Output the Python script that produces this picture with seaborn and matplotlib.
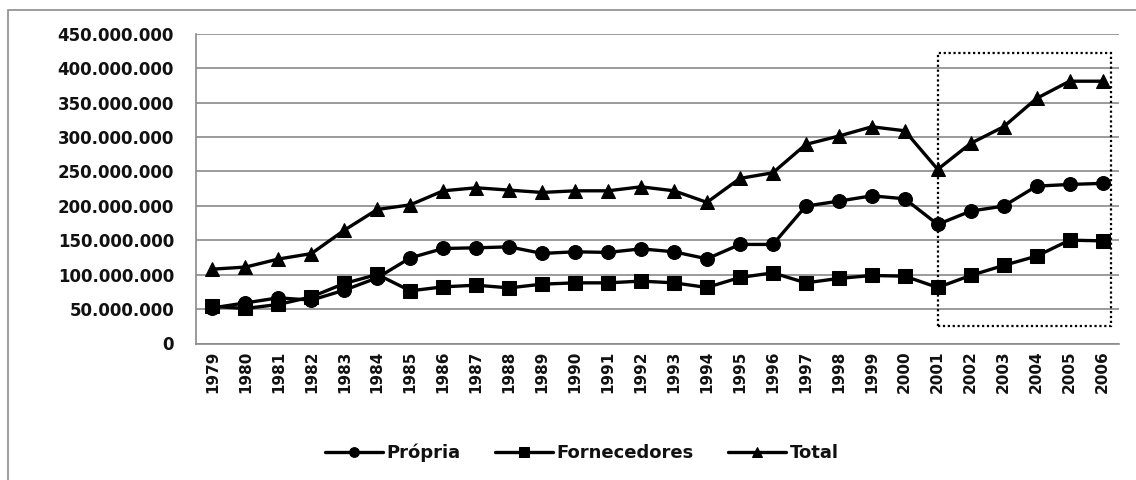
import numpy as np
import pandas as pd
import matplotlib
matplotlib.use("Agg")
import matplotlib.pyplot as plt
from matplotlib.ticker import FuncFormatter, FixedLocator
from matplotlib.patches import Rectangle
import seaborn as sns

years = list(range(1979, 2007))
propria = [51.7, 59.0, 66.3, 63.0, 77.5, 95.4, 124.4, 138.0, 139.0, 140.4,
           130.8, 133.2, 132.3, 137.5, 133.2, 123.0, 143.9, 143.9, 199.6, 206.8,
           214.5, 210.2, 173.0, 192.3, 199.6, 228.6, 231.0, 232.6]
fornecedores = [54.0, 50.9, 56.7, 67.7, 87.2, 100.3, 76.5, 82.3, 84.7, 80.8,
                86.2, 88.1, 88.1, 90.6, 88.1, 81.4, 95.9, 102.6, 88.1, 94.5,
                98.8, 97.8, 81.4, 98.8, 113.4, 126.9, 150.1, 149.1]
total = [108.0, 111.0, 122.7, 130.6, 164.6, 194.7, 201.4, 221.8, 226.2, 222.8,
         219.4, 221.8, 221.8, 227.6, 221.8, 205.0, 239.8, 248.0, 289.2, 301.3,
         314.8, 309.0, 252.9, 290.7, 314.8, 356.0, 381.0, 381.0]
series_names = ["Própria", "Fornecedores", "Total"]
yticks = list(range(0, 450_000_001, 50_000_000))

df = pd.DataFrame({
    "Ano": years * 3,
    "Valor": np.array(propria + fornecedores + total) * 1e6,
    "Série": [series_names[0]] * len(years) + [series_names[1]] * len(years)
             + [series_names[2]] * len(years),
})

sns.set_style("white")
plt.rcParams["font.family"] = ["DejaVu Sans"]
plt.rcParams["text.color"] = "#111111"
plt.rcParams["xtick.labelcolor"] = "#111111"
plt.rcParams["ytick.labelcolor"] = "#111111"

W, H = 1136, 480
fig = plt.figure(figsize=(W / 100, H / 100), dpi=100)
ax = fig.add_axes([196 / W, 1 - 343.5 / H, (1119 - 196) / W, (343.5 - 33.7) / H])

# chart area border
fig.patches.append(Rectangle((8 / W, -0.1), 1.2, 1 - 10 / H + 0.1, transform=fig.transFigure,
                             fill=False, edgecolor="#8c8c8c", linewidth=1.2))

markers = {"Própria": "o", "Fornecedores": "s", "Total": "^"}
sns.lineplot(data=df, x="Ano", y="Valor", hue="Série", style="Série",
             hue_order=series_names, style_order=series_names,
             palette=["black"] * 3, markers=markers, dashes=False,
             markersize=10, linewidth=2.4, markeredgecolor="black",
             ax=ax, legend=True, zorder=3)

ax.set_xlim(1978.5, 2006.5)
ax.set_ylim(0, 450_000_000)
ax.set_yticks(yticks)
ax.yaxis.set_major_formatter(FuncFormatter(lambda v, p: "0" if v == 0 else f"{int(v):,}".replace(",", ".")))
ax.grid(axis="y", color="#8a8a8a", linewidth=1.2, zorder=0)
ax.grid(axis="x", visible=False)
ax.set_xticks(years)
ax.set_xticklabels([str(y) for y in years], rotation=90)
ax.xaxis.set_minor_locator(FixedLocator(np.arange(1978.5, 2007, 1.0)))
ax.tick_params(axis="x", which="major", length=0, pad=5, labelsize=11)
ax.tick_params(axis="x", which="minor", length=4.5, color="#8a8a8a", width=1.1, direction="out")
ax.tick_params(axis="y", length=5.8, color="#8a8a8a", width=1.1, direction="out", labelsize=12, pad=10)
for lab in ax.get_yticklabels() + ax.get_xticklabels():
    lab.set_fontweight("bold")
for s in ["top", "right"]:
    ax.spines[s].set_visible(False)
for s in ["left", "bottom"]:
    ax.spines[s].set_color("#8a8a8a")
    ax.spines[s].set_linewidth(1.2)
ax.set_xlabel("")
ax.set_ylabel("")

# dotted highlight box
ax.add_patch(Rectangle((2001, 25e6), 5.26, 396.5e6, fill=False, edgecolor="black",
                       linestyle=(0, (1, 1.2)), linewidth=1.6, clip_on=False, zorder=4))

handles, labels = ax.get_legend_handles_labels()
leg = ax.legend(handles, labels, loc="center", bbox_to_anchor=(582 / W, 1 - 453 / H),
                bbox_transform=fig.transFigure, ncol=3, frameon=False, markerscale=0.7,
                handlelength=3.2, handletextpad=0.2, columnspacing=1.9,
                prop={"size": 13, "weight": "bold"})

fig.savefig("out.png", dpi=100, facecolor="white")
